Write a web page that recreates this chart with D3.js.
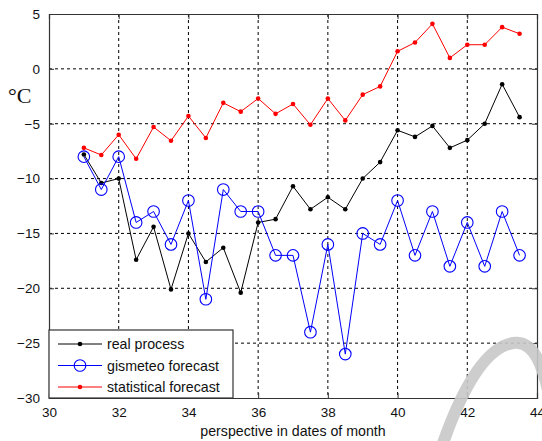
<!DOCTYPE html>
<html><head><meta charset="utf-8">
<script src="https://cdn.jsdelivr.net/npm/d3@7"></script>
<style>body{margin:0;background:#fff}svg{display:block}</style>
</head><body>
<script>
const days = [31,31.5,32,32.5,33,33.5,34,34.5,35,35.5,36,36.5,37,37.5,38,38.5,39,39.5,40,40.5,41,41.5,42,42.5,43,43.5];
const realProcess = [-7.8,-10.4,-10.0,-17.4,-14.4,-20.1,-15.0,-17.6,-16.3,-20.4,-14.0,-13.7,-10.7,-12.8,-11.7,-12.8,-10.0,-8.5,-5.6,-6.2,-5.2,-7.2,-6.5,-5.0,-1.4,-4.4];
const gismeteo = [-8,-11,-8,-14,-13,-16,-12,-21,-11,-13,-13,-17,-17,-24,-16,-26,-15,-16,-12,-17,-13,-18,-14,-18,-13,-17];
const statistical = [-7.2,-7.85,-6.0,-8.2,-5.3,-6.55,-4.3,-6.3,-3.1,-3.9,-2.7,-4.1,-3.2,-5.1,-2.7,-4.7,-2.35,-1.6,1.6,2.4,4.1,1.0,2.2,2.2,3.8,3.2];
const xTicks = [30,32,34,36,38,40,42,44];
const yTicks = [5,0,-5,-10,-15,-20,-25,-30];
const seriesNames = ["real process","gismeteo forecast","statistical forecast"];

const W=542,H=441;
const m={l:49,r:5,t:14,b:43};
const svg=d3.select("body").append("svg").attr("width",W).attr("height",H);
const x=d3.scaleLinear().domain([30,44]).range([m.l,W-m.r]);
const y=d3.scaleLinear().domain([-30,5]).range([H-m.b,m.t]);
const font="'Liberation Sans', Arial, sans-serif";

// grid
const g=svg.append("g");
g.selectAll(".vg").data(xTicks.slice(1,-1)).join("line")
 .attr("x1",d=>x(d)).attr("x2",d=>x(d)).attr("y1",y(5)).attr("y2",y(-30))
 .attr("stroke","#000").attr("stroke-width",1).attr("stroke-dasharray","3,3");
g.selectAll(".hg").data(yTicks.slice(1,-1)).join("line")
 .attr("y1",d=>y(d)).attr("y2",d=>y(d)).attr("x1",x(30)).attr("x2",x(44))
 .attr("stroke","#000").attr("stroke-width",1).attr("stroke-dasharray","3,3");

// axes (inward ticks)
const axCol="#333";
const axBottom=svg.append("g").attr("transform",`translate(0,${y(-30)})`)
 .call(d3.axisBottom(x).tickValues(xTicks).tickSize(-5).tickPadding(9).tickFormat(d3.format("d")));
const axLeft=svg.append("g").attr("transform",`translate(${x(30)},0)`)
 .call(d3.axisLeft(y).tickValues(yTicks).tickSize(-5).tickPadding(9).tickFormat(d3.format("d")));
const axTop=svg.append("g").attr("transform",`translate(0,${y(5)})`)
 .call(d3.axisTop(x).tickValues(xTicks).tickSize(-5).tickFormat(""));
const axRight=svg.append("g").attr("transform",`translate(${x(44)},0)`)
 .call(d3.axisRight(y).tickValues(yTicks).tickSize(-5).tickFormat(""));
[axBottom,axLeft,axTop,axRight].forEach(a=>{
  a.select(".domain").attr("stroke",axCol).attr("stroke-width",1.2);
  a.selectAll(".tick line").attr("stroke",axCol);
  a.selectAll("text").attr("font-family",font).attr("font-size",13.5).attr("fill","#111");
});

// series
const line=d3.line().x((d,i)=>x(days[i])).y(d=>y(d));
function drawSeries(vals,color,marker){
  svg.append("path").datum(vals).attr("d",line).attr("fill","none").attr("stroke",color).attr("stroke-width",1);
  if(marker==="dot"){
    svg.append("g").selectAll("circle").data(vals).join("circle")
     .attr("cx",(d,i)=>x(days[i])).attr("cy",d=>y(d)).attr("r",2.3).attr("fill",color);
  } else {
    svg.append("g").selectAll("circle").data(vals).join("circle")
     .attr("cx",(d,i)=>x(days[i])).attr("cy",d=>y(d)).attr("r",5.8).attr("fill","none").attr("stroke",color).attr("stroke-width",1.1);
  }
}
drawSeries(realProcess,"#000","dot");
drawSeries(gismeteo,"#0000ff","circle");
drawSeries(statistical,"#ff0000","dot");

// legend
const lg=svg.append("g");
lg.append("rect").attr("x",x(30)).attr("y",330).attr("width",184).attr("height",y(-30)-330)
 .attr("fill","#fff").attr("stroke",axCol).attr("stroke-width",1.2);
const colors=["#000","#0000ff","#ff0000"];
seriesNames.forEach((n,i)=>{
  const yy=344+i*21.5;
  lg.append("line").attr("x1",58).attr("x2",102).attr("y1",yy).attr("y2",yy).attr("stroke",colors[i]);
  if(i===1) lg.append("circle").attr("cx",80).attr("cy",yy).attr("r",5.8).attr("fill","none").attr("stroke",colors[i]).attr("stroke-width",1.1);
  else lg.append("circle").attr("cx",80).attr("cy",yy).attr("r",2.3).attr("fill",colors[i]);
  lg.append("text").attr("x",107).attr("y",yy+5).text(n)
   .attr("font-family",font).attr("font-size",14.2).attr("fill","#111");
});

// labels
svg.append("text").attr("x",(x(30)+x(44))/2).attr("y",436).attr("text-anchor","middle")
 .attr("font-family",font).attr("font-size",14.2).attr("fill","#111").text("perspective in dates of month");
svg.append("text").attr("x",8).attr("y",103)
 .attr("font-family","'Liberation Serif', 'Times New Roman', serif").attr("font-size",22).attr("fill","#111").text("°C");

// watermark decoration
svg.append("path").attr("d","M442,446 C458,400 482,348 513,343 C534,340 544,365 552,410")
 .attr("fill","none").attr("stroke","#c8c8c8").attr("stroke-width",12).attr("opacity",0.9);
</script>
</body></html>
